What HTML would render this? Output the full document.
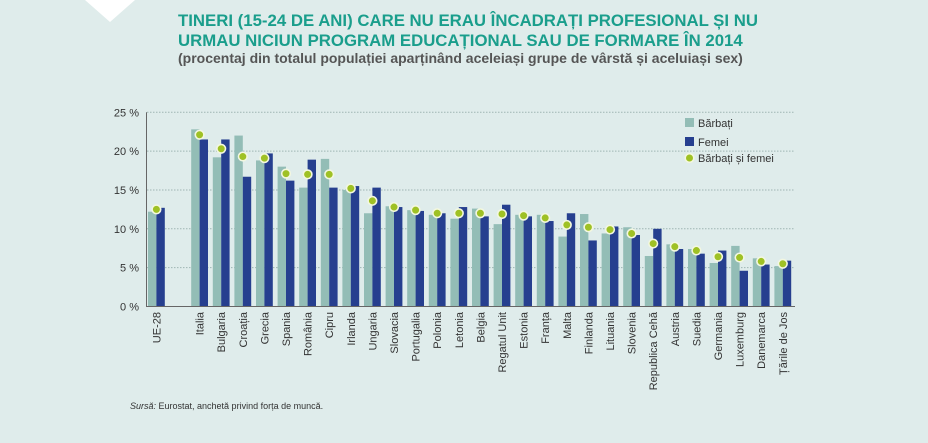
<!DOCTYPE html>
<html><head><meta charset="utf-8">
<style>
html,body{margin:0;padding:0;}
body{width:928px;height:443px;background:#dfeceb;overflow:hidden;font-family:"Liberation Sans",sans-serif;position:relative;}
.t{position:absolute;left:178px;color:#1a9e8c;font-weight:bold;font-size:16.8px;white-space:nowrap;}
.s{position:absolute;left:178px;top:50px;color:#555;font-weight:bold;font-size:14px;white-space:nowrap;}
.src{position:absolute;left:130px;top:401px;font-size:9px;color:#333;}
</style></head><body>
<svg style="position:absolute;left:0;top:0" width="928" height="443"><polygon points="85,0 135,0 110,22" fill="#ffffff"/></svg>
<div class="t" style="top:11px">TINERI (15-24 DE ANI) CARE NU ERAU ÎNCADRAȚI PROFESIONAL ȘI NU</div>
<div class="t" style="top:31px">URMAU NICIUN PROGRAM EDUCAȚIONAL SAU DE FORMARE ÎN 2014</div>
<div class="s">(procentaj din totalul populației aparținând aceleiași grupe de vârstă și aceluiași sex)</div>
<div class="src"><i>Sursă:</i> Eurostat, anchetă privind forța de muncă.</div>
<svg id="chart" style="position:absolute;left:0;top:0" width="928" height="443"></svg>
<script>
const categories=["UE-28","","Italia","Bulgaria","Croația","Grecia","Spania","România","Cipru","Irlanda","Ungaria","Slovacia","Portugalia","Polonia","Letonia","Belgia","Regatul Unit","Estonia","Franța","Malta","Finlanda","Lituania","Slovenia","Republica Cehă","Austria","Suedia","Germania","Luxemburg","Danemarca","Țările de Jos"];
const men=[12.2,null,22.8,19.2,22.0,18.8,18.0,15.3,19.0,15.0,12.0,12.9,12.4,11.8,11.3,12.6,10.6,11.8,11.8,9.0,11.9,9.4,10.2,6.5,8.0,7.4,5.6,7.8,6.2,5.2];
const women=[12.7,null,21.5,21.5,16.7,19.7,16.2,18.9,15.3,15.5,15.3,12.8,12.3,12.0,12.8,11.6,13.1,11.6,11.0,12.0,8.5,10.3,9.2,10.0,7.4,6.8,7.2,4.6,5.4,5.9];
const total=[12.5,null,22.1,20.3,19.3,19.1,17.1,17.0,17.0,15.2,13.6,12.8,12.4,12.0,12.0,12.0,11.9,11.7,11.4,10.5,10.2,9.9,9.4,8.1,7.7,7.2,6.4,6.3,5.8,5.5];
const yTicks=[0,5,10,15,20,25];
const NS="http://www.w3.org/2000/svg";
const svg=document.getElementById('chart');
const y0=306.5,pxPer=7.77,x0=148,slot=21.6,bw=8.4;
const Y=v=>y0-v*pxPer;
const X=i=>x0+i*slot;
function mk(tag,attrs,parent){const e=document.createElementNS(NS,tag);for(const k in attrs)e.setAttribute(k,attrs[k]);(parent||svg).appendChild(e);return e;}
yTicks.forEach(t=>{
  if(t>0){const g=mk('line',{x1:147,x2:795,y1:Y(t),y2:Y(t),stroke:'#9fb5b3','stroke-width':1,'stroke-dasharray':'1.5,1.5'});
  
  }
  const l=mk('text',{x:139,y:Y(t)+4,'text-anchor':'end','font-size':11,fill:'#333','font-family':'Liberation Sans, sans-serif'});
  l.textContent=t+' %';
  
  
});
categories.forEach((c,i)=>{
  if(men[i]==null)return;
  const x=X(i);
  const a=mk('rect',{x:x,y:Y(men[i]),width:bw,height:men[i]*pxPer,fill:'#93bdb6'});
  
  
  const b=mk('rect',{x:x+bw,y:Y(women[i]),width:bw,height:women[i]*pxPer,fill:'#263f8f'});
  
  
  const t=mk('text',{transform:`translate(${x+bw+4},312) rotate(-90)`,'text-anchor':'end','font-size':11,fill:'#333','font-family':'Liberation Sans, sans-serif'});
  t.textContent=c;
  
  
});
categories.forEach((c,i)=>{
  if(total[i]==null)return;
  const d=mk('circle',{cx:X(i)+bw,cy:Y(total[i]),r:4.3,fill:'#9fc125',stroke:'#f3f7e0','stroke-width':1.6});
  
  
});
const ax=mk('line',{x1:146.5,x2:146.5,y1:Y(25),y2:y0,stroke:'#666','stroke-width':1});


const bx=mk('line',{x1:146,x2:795,y1:y0,y2:y0,stroke:'#666','stroke-width':1});


const lg=[['Bărbați','#93bdb6',123],['Femei','#263f8f',142]];
lg.forEach(([n,c,y])=>{
  const r=mk('rect',{x:685,y:y-5,width:9,height:9,fill:c});
  
  
  const t=mk('text',{x:698,y:y+4,'font-size':11,fill:'#333','font-family':'Liberation Sans, sans-serif'});
  t.textContent=n;
  
  
});
const lc=mk('circle',{cx:689.5,cy:158,r:4.3,fill:'#9fc125',stroke:'#f3f7e0','stroke-width':1.6});


const lt=mk('text',{x:698,y:162,'font-size':11,fill:'#333','font-family':'Liberation Sans, sans-serif'});
lt.textContent='Bărbați și femei';


</script>
</body></html>
